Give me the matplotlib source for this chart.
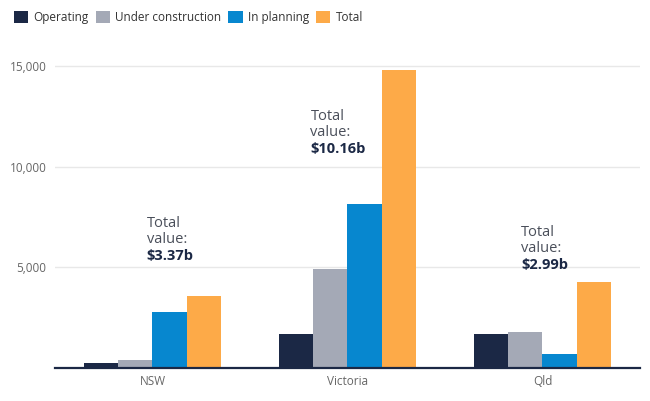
import numpy as np
import matplotlib.pyplot as plt
from matplotlib.patches import Patch

plt.rcParams['font.family'] = ['Open Sans', 'DejaVu Sans']

states = ['NSW', 'Victoria', 'Qld']
series = ['Operating', 'Under construction', 'In planning', 'Total']
operating = [270, 1690, 1680]
under_construction = [380, 4920, 1780]
in_planning = [2790, 8140, 710]
total = [3570, 14830, 4270]
total_value = ['$3.37b', '$10.16b', '$2.99b']
colors = ['#1b2845', '#a4a9b6', '#0787cf', '#fdaa48']

fig = plt.figure(figsize=(6.5, 4.01), dpi=100)
ax = fig.add_axes([0.0846, 0.0823, 0.9, 0.777])

x = np.arange(len(states))
w = 0.175
values = [operating, under_construction, in_planning, total]
for i, (vals, c) in enumerate(zip(values, colors)):
    ax.bar(x + (i - 1.5) * w, vals, w, color=c, zorder=3)

ax.set_xlim(-0.5, 2.5)
ax.set_ylim(0, 15500)
ax.set_yticks([5000, 10000, 15000])
ax.yaxis.set_major_formatter(plt.FuncFormatter(lambda v, p: f'{int(v):,}'))
ax.set_xticks(x)
ax.set_xticklabels(states)
ax.tick_params(axis='both', length=0, labelsize=8.5, labelcolor='#666666')
ax.tick_params(axis='y', pad=6)
ax.tick_params(axis='x', pad=5)
ax.grid(axis='y', color='#e8e8e8', linewidth=1, zorder=0)
for s in ['top', 'right', 'left']:
    ax.spines[s].set_visible(False)
ax.spines['bottom'].set_color('#1b2845')
ax.spines['bottom'].set_linewidth(1.6)
ax.spines['bottom'].set_zorder(4)

# "Total value" notes, offset from each group centre
offset_x = [-0.03, -0.19, -0.11]
label_y = [7550, 12900, 7100]
for xi, dx, ly, tv in zip(x, offset_x, label_y, total_value):
    ax.text(xi + dx, ly, 'Total\nvalue:', ha='left', va='top', fontsize=10.5,
            color='#4a4f5a', linespacing=1.1, zorder=5)
    ax.text(xi + dx, ly - 1640, tv, ha='left', va='top',
            fontsize=10.5, fontweight='bold', color='#1b2845', zorder=5)

handles = [Patch(facecolor=c, edgecolor='none') for c in colors]
fig.legend(handles, series, loc='upper left', bbox_to_anchor=(0.005, 1.0),
           ncol=4, frameon=False, fontsize=8.5, handlelength=1.2,
           handleheight=1.2, handletextpad=0.45, columnspacing=0.6,
           labelcolor='#333333')

fig.savefig('out.png', dpi=100)
